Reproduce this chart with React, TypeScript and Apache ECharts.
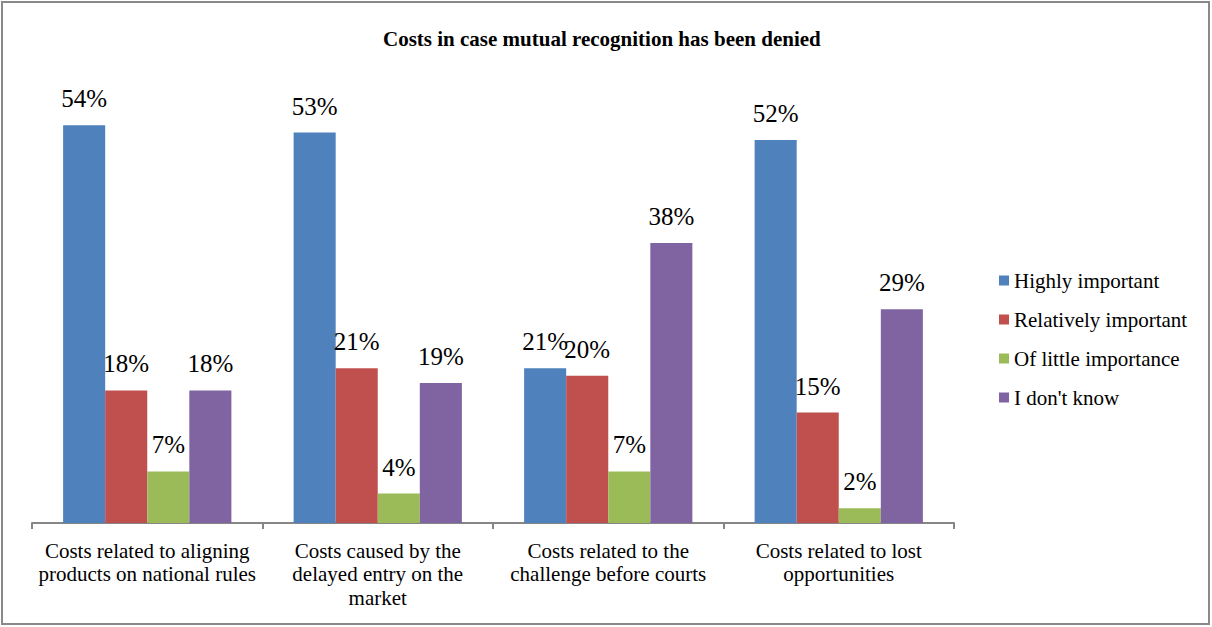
import React, { useEffect, useRef } from "react";
import * as echarts from "echarts";

const categories = [
  "Costs related to aligning\nproducts on national rules",
  "Costs caused by the\ndelayed entry on the\nmarket",
  "Costs related to the\nchallenge before courts",
  "Costs related to lost\nopportunities",
];
const seriesNames = ["Highly important", "Relatively important", "Of little importance", "I don't know"];
const highlyImportant = [54, 53, 21, 52];
const relativelyImportant = [18, 21, 20, 15];
const ofLittleImportance = [7, 4, 7, 2];
const dontKnow = [18, 19, 38, 29];
const colors = ["#4F81BD", "#C0504D", "#9BBB59", "#8064A2"];
const title = "Costs in case mutual recognition has been denied";

const FONT = "Liberation Serif, Times New Roman, serif";

export default function App() {
  const ref = useRef<HTMLDivElement>(null);
  useEffect(() => {
    if (!ref.current) return;
    const chart = echarts.init(ref.current, null, { renderer: "svg" });
    const values = [highlyImportant, relativelyImportant, ofLittleImportance, dontKnow];
    chart.setOption({
      animation: false,
      textStyle: { fontFamily: FONT },
      title: {
        text: title,
        left: 378,
        top: 23,
        textStyle: { fontFamily: FONT, fontSize: 21, fontWeight: "bold", color: "#000" },
      },
      graphic: [
        {
          type: "rect",
          shape: { x: 2, y: 2, width: 1207, height: 622 },
          style: { fill: "none", stroke: "#898989", lineWidth: 2 },
          silent: true,
        },
      ],
      legend: {
        orient: "vertical",
        left: 994,
        top: 265,
        itemWidth: 10,
        itemHeight: 10,
        itemGap: 18,
        icon: "rect",
        textStyle: { fontFamily: FONT, fontSize: 21, color: "#000" },
        data: seriesNames,
      },
      grid: { left: 32, right: 258, top: 81, bottom: 104, containLabel: false },
      xAxis: {
        type: "category",
        data: categories,
        axisLine: { lineStyle: { color: "#868686", width: 2 } },
        axisTick: { show: true, length: 6, lineStyle: { color: "#868686", width: 2 } },
        axisLabel: {
          interval: 0,
          fontFamily: FONT,
          fontSize: 21,
          lineHeight: 23.5,
          color: "#000",
          margin: 16,
        },
      },
      yAxis: {
        type: "value",
        min: 0,
        max: 60,
        show: false,
        splitLine: { show: false },
      },
      series: seriesNames.map((name, i) => ({
        name,
        type: "bar",
        data: values[i],
        barGap: "0%",
        barCategoryGap: "27%",
        itemStyle: { color: colors[i] },
        label: {
          show: true,
          position: "top",
          distance: 14,
          formatter: "{c}%",
          fontFamily: FONT,
          fontSize: 25,
          color: "#000",
        },
      })),
    });
    return () => chart.dispose();
  }, []);
  return (
    <div
      ref={ref}
      style={{ position: "fixed", left: 0, top: 0, width: 1212, height: 627, background: "#fff" }}
    />
  );
}
